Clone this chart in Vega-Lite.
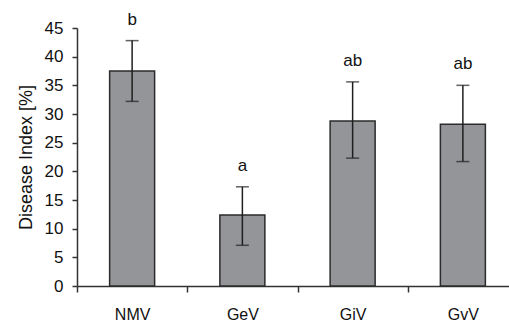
{
  "$schema": "https://vega.github.io/schema/vega-lite/v6.json",
  "width": 441,
  "height": 258,
  "autosize": {"type": "none"},
  "padding": {"left": 77, "top": 28, "right": 0, "bottom": 39},
  "background": "white",
  "config": {
    "view": {"stroke": null},
    "font": "Liberation Sans",
    "axis": {
      "domainColor": "#333333",
      "tickColor": "#333333",
      "labelColor": "#111111",
      "titleColor": "#111111",
      "domainWidth": 1.5,
      "tickWidth": 1.5,
      "grid": false,
      "labelFont": "Liberation Sans",
      "titleFont": "Liberation Sans"
    },
    "axisY": {
      "values": [0, 5, 10, 15, 20, 25, 30, 35, 40, 45],
      "labelOverlap": false,
      "titleFontSize": 18,
      "titleFontWeight": "normal",
      "titlePadding": 9,
      "labelFontSize": 17,
      "tickSize": 5,
      "labelPadding": 9
    }
  },
  "data": {
    "values": [
      {"group": "NMV", "mean": 37.5, "lo": 32.2, "hi": 42.8, "letter": "b"},
      {"group": "GeV", "mean": 12.4, "lo": 7.1, "hi": 17.3, "letter": "a"},
      {"group": "GiV", "mean": 28.8, "lo": 22.3, "hi": 35.6, "letter": "ab"},
      {"group": "GvV", "mean": 28.2, "lo": 21.7, "hi": 35.0, "letter": "ab"}
    ]
  },
  "encoding": {
    "x": {
      "field": "group",
      "type": "nominal",
      "sort": null,
      "scale": {"paddingInner": 0, "paddingOuter": 0},
      "axis": {
        "title": null,
        "labelAngle": 0,
        "labelFontSize": 16,
        "tickBand": "extent",
        "tickSize": 6,
        "labelPadding": 14
      }
    }
  },
  "layer": [
    {
      "mark": {"type": "bar", "size": 45, "fill": "#949599", "stroke": "#2b2b2b", "strokeWidth": 1.5},
      "encoding": {
        "y": {
          "field": "mean",
          "type": "quantitative",
          "scale": {"domain": [0, 45], "nice": false},
          "axis": {"title": "Disease Index [%]"}
        }
      }
    },
    {
      "mark": {"type": "rule", "color": "#1f1f1f", "strokeWidth": 1.5},
      "encoding": {"y": {"field": "lo", "type": "quantitative", "axis": {"title": "Disease Index [%]"}}, "y2": {"field": "hi"}}
    },
    {
      "mark": {"type": "tick", "color": "#1f1f1f", "size": 13, "thickness": 1.5},
      "encoding": {"y": {"field": "hi", "type": "quantitative", "axis": {"title": "Disease Index [%]"}}}
    },
    {
      "mark": {"type": "tick", "color": "#1f1f1f", "size": 13, "thickness": 1.5},
      "encoding": {"y": {"field": "lo", "type": "quantitative", "axis": {"title": "Disease Index [%]"}}}
    },
    {
      "mark": {"type": "text", "fontSize": 17, "dy": -21, "baseline": "middle", "color": "#111111", "font": "Liberation Sans"},
      "encoding": {"y": {"field": "hi", "type": "quantitative", "axis": {"title": "Disease Index [%]"}}, "text": {"field": "letter"}}
    }
  ]
}
